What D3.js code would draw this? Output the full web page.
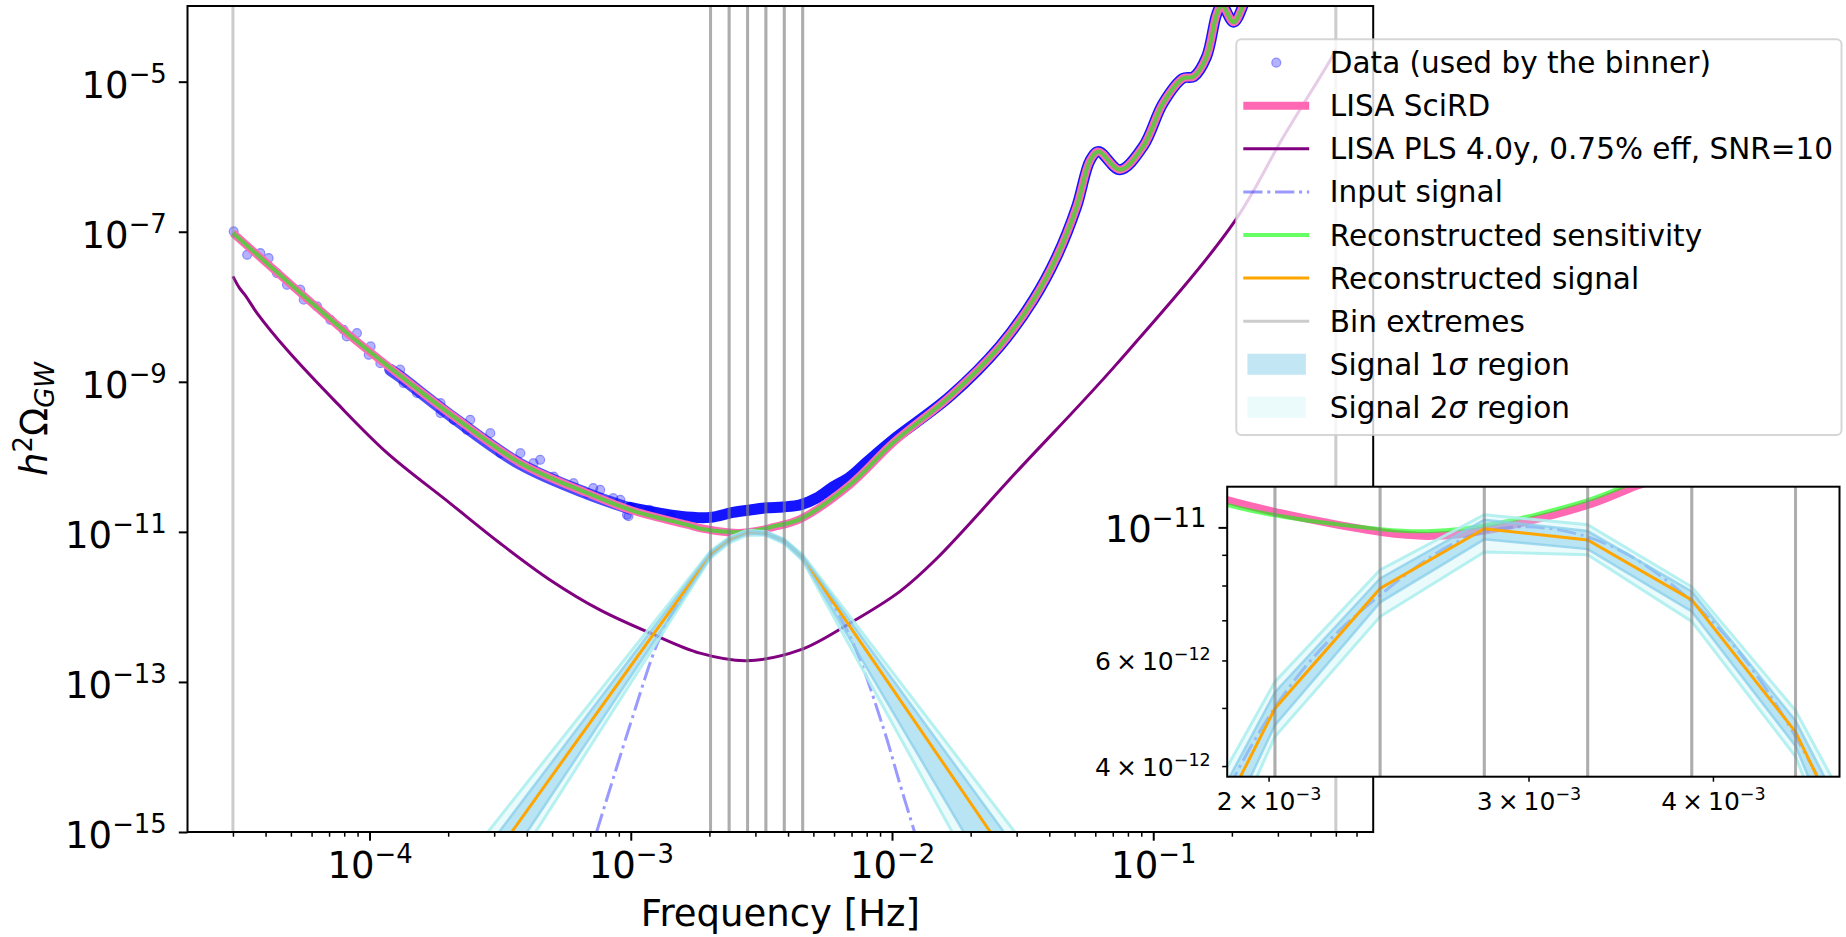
<!DOCTYPE html>
<html>
<head>
<meta charset="utf-8">
<title>LISA binned signal reconstruction</title>
<script src="https://cdn.jsdelivr.net/npm/d3@7"></script>
<style>
  body { margin: 0; background: #fff; }
  svg { display: block; }
  text { font-family: "DejaVu Sans", sans-serif; fill: #000; }
</style>
</head>
<body>
<script>
// Values, as [frequency (Hz), h^2 Omega_GW]

// LISA SciRD sensitivity curve
const sciRD = [
  [3.0e-5, 9.62e-8], [8.19e-5, 4.46e-9], [1.31e-4, 1.21e-9], [2.10e-4, 3.44e-10],
  [3.78e-4, 8.24e-11], [6.79e-4, 3.31e-11], [1.02e-3, 1.91e-11], [1.64e-3, 1.245e-11],
  [1.875e-3, 1.11e-11], [2.385e-3, 9.82e-12], [2.58e-3, 9.68e-12], [2.82e-3, 9.91e-12],
  [3.29e-3, 1.09e-11], [3.51e-3, 1.16e-11], [4.45e-3, 1.48e-11], [6.90e-3, 4.24e-11],
  [1.01e-2, 1.54e-10], [1.67e-2, 6.43e-10], [2.59e-2, 2.99e-9], [3.48e-2, 1.24e-8],
  [4.27e-2, 4.62e-8], [5.09e-2, 2.15e-7], [5.73e-2, 8.93e-7], [6.17e-2, 1.17e-6],
  [7.46e-2, 6.71e-7], [9.16e-2, 1.38e-6], [0.109, 5.15e-6], [0.130, 1.11e-5],
  [0.143, 1.17e-5], [0.160, 2.15e-5], [0.175, 8.00e-5], [0.183, 1.05e-4],
  [0.203, 6.21e-5], [0.221, 1.05e-4], [0.245, 3.16e-4]
];

// Reconstructed sensitivity (differs from SciRD only around the minimum)
const recSensitivity = [
  [3.0e-5, 9.62e-8], [8.19e-5, 4.46e-9], [1.31e-4, 1.21e-9], [2.10e-4, 3.44e-10],
  [3.78e-4, 8.24e-11], [6.79e-4, 3.31e-11], [1.02e-3, 1.91e-11], [1.64e-3, 1.245e-11],
  [1.875e-3, 1.09e-11], [2.385e-3, 9.93e-12], [2.58e-3, 9.86e-12], [2.82e-3, 1.01e-11],
  [3.29e-3, 1.11e-11], [3.51e-3, 1.18e-11], [4.45e-3, 1.48e-11], [6.90e-3, 4.24e-11],
  [1.01e-2, 1.54e-10], [1.67e-2, 6.43e-10], [2.59e-2, 2.99e-9], [3.48e-2, 1.24e-8],
  [4.27e-2, 4.62e-8], [5.09e-2, 2.15e-7], [5.73e-2, 8.93e-7], [6.17e-2, 1.17e-6],
  [7.46e-2, 6.71e-7], [9.16e-2, 1.38e-6], [0.109, 5.15e-6], [0.130, 1.11e-5],
  [0.143, 1.17e-5], [0.160, 2.15e-5], [0.175, 8.00e-5], [0.183, 1.05e-4],
  [0.203, 6.21e-5], [0.221, 1.05e-4], [0.245, 3.16e-4]
];

// LISA power-law sensitivity, 4 yr, SNR = 10
const plsCurve = [
  [3.00e-5, 2.54e-8], [3.18e-5, 1.77e-8], [3.37e-5, 1.37e-8], [3.71e-5, 8.24e-9],
  [4.83e-5, 2.67e-9], [7.50e-5, 5.20e-10], [1.17e-4, 1.12e-10], [2.03e-4, 2.42e-11],
  [3.16e-4, 7.06e-12], [4.91e-4, 2.29e-12], [7.62e-4, 9.12e-13], [1.19e-3, 4.46e-13],
  [1.84e-3, 2.42e-13], [2.78e-3, 1.92e-13], [4.45e-3, 2.67e-13], [6.90e-3, 6.07e-13],
  [1.07e-2, 1.60e-12], [1.48e-2, 4.38e-12], [3.00e-2, 6.31e-11], [7.24e-2, 1.72e-9],
  [0.203, 1.31e-7], [0.313, 1.77e-6], [0.475, 1.92e-5], [0.500, 2.67e-5]
];

// Injected signal
const inputSignal = [
  [7.40e-4, 1.0e-15], [1.02e-3, 3.55e-14], [1.26e-3, 3.16e-13], [1.46e-3, 8.91e-13],
  [2.02e-3, 5.01e-12], [2.38e-3, 7.71e-12], [2.80e-3, 9.84e-12], [3.29e-3, 9.64e-12],
  [3.87e-3, 7.52e-12], [4.55e-3, 4.48e-12], [6.92e-3, 3.98e-13], [9.24e-3, 2.51e-14],
  [1.07e-2, 4.47e-15], [1.22e-2, 1.0e-15]
];

// Reconstructed signal (piecewise power law between bin extremes)
const recSignal = [
  [3.50e-4, 1.0e-15], [2.02e-3, 4.99e-12], [2.38e-3, 7.91e-12], [2.80e-3, 9.95e-12],
  [3.29e-3, 9.53e-12], [3.87e-3, 7.57e-12], [4.55e-3, 4.56e-12], [2.38e-2, 1.0e-15]
];

// Uncertainty bands on the reconstructed signal
const sigma2Upper = [[2.84e-4, 1e-15], [2.02e-3, 5.53e-12], [2.38e-3, 8.49e-12], [2.80e-3, 1.05e-11],
  [3.29e-3, 1.01e-11], [3.87e-3, 7.96e-12], [4.55e-3, 4.95e-12], [2.95e-2, 1e-15]];
const sigma2Lower = [[4.32e-4, 1e-15], [2.02e-3, 4.48e-12], [2.38e-3, 7.10e-12], [2.80e-3, 9.10e-12],
  [3.29e-3, 9.00e-12], [3.87e-3, 6.97e-12], [4.55e-3, 4.15e-12], [1.70e-2, 1e-15]];
const sigma1Upper = [[3.13e-4, 1e-15], [2.02e-3, 5.31e-12], [2.38e-3, 8.22e-12], [2.80e-3, 1.03e-11],
  [3.29e-3, 9.86e-12], [3.87e-3, 7.82e-12], [4.55e-3, 4.76e-12], [2.68e-2, 1e-15]];
const sigma1Lower = [[4.01e-4, 1e-15], [2.02e-3, 4.68e-12], [2.38e-3, 7.50e-12], [2.80e-3, 9.55e-12],
  [3.29e-3, 9.20e-12], [3.87e-3, 7.24e-12], [4.55e-3, 4.32e-12], [1.88e-2, 1e-15]];

// Bins used by the binner: [low edge, high edge]
const bins = [[3.0e-5, 2.02e-3], [2.02e-3, 2.38e-3], [2.38e-3, 2.80e-3], [2.80e-3, 3.29e-3],
  [3.29e-3, 3.87e-3], [3.87e-3, 4.55e-3], [4.55e-3, 0.5]];

// Data points that are visible on their own (low frequencies)
const dataDots = [
  [3.02e-5, 1.01e-7], [3.40e-5, 4.93e-8], [3.82e-5, 5.20e-8], [4.11e-5, 4.46e-8],
  [4.42e-5, 2.81e-8], [4.83e-5, 1.96e-8], [5.43e-5, 1.69e-8], [5.60e-5, 1.24e-8],
  [6.30e-5, 1.01e-8], [7.08e-5, 6.71e-9], [7.96e-5, 4.93e-9], [8.18e-5, 4.02e-9],
  [8.95e-5, 4.46e-9], [1.01e-4, 2.96e-9], [9.93e-5, 2.29e-9], [1.10e-4, 1.77e-9],
  [1.31e-4, 1.45e-9], [1.35e-4, 9.62e-10], [1.52e-4, 7.06e-10], [1.87e-4, 5.20e-10],
  [1.87e-4, 3.83e-10], [2.10e-4, 3.11e-10], [2.43e-4, 3.11e-10], [2.36e-4, 2.29e-10],
  [2.90e-4, 2.07e-10], [3.17e-4, 1.12e-10], [3.78e-4, 1.12e-10], [4.50e-4, 9.12e-11],
  [5.07e-4, 5.46e-11], [6.04e-4, 4.46e-11], [6.80e-4, 3.28e-11], [7.64e-4, 3.63e-11],
  [9.12e-4, 2.67e-11], [9.67e-4, 1.69e-11], [1.42e-3, 1.60e-11], [4.24e-4, 8.24e-11],
  [8.57e-4, 2.81e-11], [7.18e-4, 3.83e-11], [1.18e-3, 1.96e-11], [9.80e-4, 1.62e-11]
];

// Loose cloud of points hugging the sensitivity (1e-4 .. 1e-3)
const dataCloud = [
  [1.20e-4, 1.45e-9], [1.31e-4, 1.17e-9], [2.10e-4, 3.30e-10], [3.78e-4, 8.00e-11],
  [6.79e-4, 3.25e-11], [9.93e-4, 2.05e-11]
];

// Centre of the dense data cloud (points overlap into a solid trail)
const dataTrail = [
  [9.93e-4, 2.12e-11], [1.54e-3, 1.62e-11], [2.01e-3, 1.56e-11], [2.46e-3, 1.82e-11],
  [2.86e-3, 1.96e-11], [3.32e-3, 2.09e-11], [3.82e-3, 2.15e-11], [4.45e-3, 2.29e-11],
  [5.16e-3, 2.84e-11], [5.94e-3, 3.98e-11], [6.90e-3, 5.41e-11], [8.02e-3, 8.57e-11],
  [1.01e-2, 1.69e-10], [1.67e-2, 6.43e-10], [2.59e-2, 2.99e-9], [3.48e-2, 1.24e-8],
  [4.27e-2, 4.62e-8], [5.09e-2, 2.15e-7], [5.73e-2, 8.93e-7], [6.17e-2, 1.17e-6],
  [7.46e-2, 6.71e-7], [9.16e-2, 1.38e-6], [0.109, 5.15e-6], [0.130, 1.11e-5],
  [0.143, 1.17e-5], [0.160, 2.15e-5], [0.175, 8.00e-5], [0.183, 1.05e-4],
  [0.203, 6.21e-5], [0.221, 1.05e-4], [0.245, 3.16e-4]
];

// Ticks
const mainXTicks = [1e-4, 1e-3, 1e-2, 1e-1];
const mainYTicks = [1e-15, 1e-13, 1e-11, 1e-9, 1e-7, 1e-5];
const insetXTicks = [2e-3, 3e-3, 4e-3];
const insetXLabels = ["2", "3", "4"];
const insetYMajor = [1e-11];
const insetYMinor = [4e-12, 5e-12, 6e-12, 7e-12, 8e-12, 9e-12];
const insetYLabels = ["4", "", "6", "", "", ""];

const legendLabels = [
  "Data (used by the binner)", "LISA SciRD", "LISA PLS 4.0y, 0.75% eff, SNR=10",
  "Input signal", "Reconstructed sensitivity", "Reconstructed signal",
  "Bin extremes", "Signal 1σ region", "Signal 2σ region"
];

// ---------------------------------------------------------------
const width = 1846, height = 937;
const main = { left: 187.5, right: 1373.2, top: 6, bottom: 832 };
const inset = { left: 1227.2, right: 1839.5, top: 486.7, bottom: 776.7 };
const tickFont = 37, legendFont = 29.5, smallFont = 25;

const svg = d3.select("body").append("svg")
  .attr("width", width)
  .attr("height", height)
  .attr("viewBox", [0, 0, width, height]);

svg.append("rect").attr("width", width).attr("height", height).attr("fill", "white");

const defs = svg.append("defs");
function addClip(id, box) {
  defs.append("clipPath").attr("id", id).append("rect")
    .attr("x", box.left).attr("y", box.top)
    .attr("width", box.right - box.left).attr("height", box.bottom - box.top);
}
addClip("clip-main", main);
addClip("clip-inset", inset);

// Scales
const x = d3.scaleLog().domain([2.01e-5, 0.695]).range([main.left, main.right]);
const y = d3.scaleLog().domain([1e-15, 1.02e-4]).range([main.bottom, main.top]);
const xIn = d3.scaleLog().domain([1.875e-3, 4.873e-3]).range([inset.left, inset.right]);
const yIn = d3.scaleLog().domain([3.84e-12, 1.169e-11]).range([inset.bottom, inset.top]);

// "10^-n" style labels, optionally with a mantissa
function powerLabel(text, value, size, mantissa) {
  const exp = Math.round(Math.log10(value / (mantissa ? +mantissa : 1)));
  text.text(null).attr("font-size", size);
  if (mantissa) text.append("tspan").text(mantissa + "\u2009\u00d7\u2009");
  text.append("tspan").text("10");
  text.append("tspan")
    .attr("font-size", size * 0.7)
    .attr("dy", -size * 0.405)
    .text((exp < 0 ? "\u2212" : "") + Math.abs(exp));
}

// Every series, drawn with a given pair of scales
function drawSeries(g, sx, sy, box) {
  const smooth = d3.line().x(d => sx(d[0])).y(d => sy(d[1])).curve(d3.curveCatmullRom.alpha(0.5));
  const straight = d3.line().x(d => sx(d[0])).y(d => sy(d[1]));
  const band = (upper, lower) => straight([...upper, ...lower.slice().reverse()]) + "Z";

  // data
  g.append("path")
    .datum(dataCloud)
    .attr("d", smooth)
    .attr("fill", "none")
    .attr("stroke", "#0000ff")
    .attr("stroke-opacity", 0.7)
    .attr("stroke-width", 12)
    .attr("stroke-linecap", "round");
  g.append("path")
    .datum(dataTrail)
    .attr("d", smooth)
    .attr("fill", "none")
    .attr("stroke", "#0000ff")
    .attr("stroke-opacity", 0.92)
    .attr("stroke-width", 11)
    .attr("stroke-linecap", "round")
    .attr("stroke-linejoin", "round");
  g.append("g")
    .selectAll("circle")
    .data(dataDots)
    .join("circle")
    .attr("cx", d => sx(d[0]))
    .attr("cy", d => sy(d[1]))
    .attr("r", 4.5)
    .attr("fill", "#0000ff")
    .attr("fill-opacity", 0.3)
    .attr("stroke", "#0000ff")
    .attr("stroke-opacity", 0.35)
    .attr("stroke-width", 1.2);

  // LISA SciRD
  g.append("path").datum(sciRD).attr("d", smooth)
    .attr("fill", "none").attr("stroke", "#ff69b4").attr("stroke-width", 8)
    .attr("stroke-linejoin", "round");

  // PLS
  g.append("path").datum(plsCurve).attr("d", smooth)
    .attr("fill", "none").attr("stroke", "#800080").attr("stroke-width", 3);

  // input signal
  g.append("path").datum(inputSignal).attr("d", smooth)
    .attr("fill", "none").attr("stroke", "#0000ff").attr("stroke-opacity", 0.4)
    .attr("stroke-width", 3).attr("stroke-dasharray", "19.2,4.8,3,4.8");

  // reconstructed sensitivity
  g.append("path").datum(recSensitivity).attr("d", smooth)
    .attr("fill", "none").attr("stroke", "#00ff00").attr("stroke-opacity", 0.6)
    .attr("stroke-width", 4);

  // uncertainty regions
  g.append("path").attr("d", band(sigma2Upper, sigma2Lower))
    .attr("fill", "#afeeee").attr("fill-opacity", 0.25);
  g.append("path").attr("d", band(sigma1Upper, sigma1Lower))
    .attr("fill", "#87ceeb").attr("fill-opacity", 0.5);

  // reconstructed signal
  g.append("path").datum(recSignal).attr("d", straight)
    .attr("fill", "none").attr("stroke", "#ffa500").attr("stroke-width", 3);

  // band edges
  [sigma2Upper, sigma2Lower].forEach(edge => {
    g.append("path").datum(edge).attr("d", straight)
      .attr("fill", "none").attr("stroke", "#afeeee").attr("stroke-opacity", 0.9)
      .attr("stroke-width", 3);
  });
  [sigma1Upper, sigma1Lower].forEach(edge => {
    g.append("path").datum(edge).attr("d", straight)
      .attr("fill", "none").attr("stroke", "#87ceeb").attr("stroke-opacity", 0.75)
      .attr("stroke-width", 2.5);
  });

  // bin extremes (each bin draws both of its edges)
  g.append("g")
    .selectAll("line")
    .data(bins.flat())
    .join("line")
    .attr("x1", d => sx(d)).attr("x2", d => sx(d))
    .attr("y1", box.top).attr("y2", box.bottom)
    .attr("stroke", "#808080").attr("stroke-opacity", 0.4).attr("stroke-width", 3);
}

// ---------------- main axes ----------------
drawSeries(svg.append("g").attr("clip-path", "url(#clip-main)"), x, y, main);

const gx = svg.append("g")
  .attr("transform", `translate(0,${main.bottom})`)
  .call(d3.axisBottom(x).tickValues(mainXTicks).tickSize(8.7).tickFormat(() => ""));
gx.select(".domain").remove();
gx.selectAll(".tick line").attr("stroke-width", 2);
gx.selectAll(".tick text").attr("y", 46).attr("dy", null)
  .each(function (d) { powerLabel(d3.select(this), d, tickFont); });

const minorX = x.ticks().filter(d => Math.abs(Math.log10(d) - Math.round(Math.log10(d))) > 1e-6);
const gxMinor = svg.append("g")
  .attr("transform", `translate(0,${main.bottom})`)
  .call(d3.axisBottom(x).tickValues(minorX).tickSize(4.7).tickFormat(() => ""));
gxMinor.select(".domain").remove();
gxMinor.selectAll(".tick line").attr("stroke-width", 1.5);

const gy = svg.append("g")
  .attr("transform", `translate(${main.left},0)`)
  .call(d3.axisLeft(y).tickValues(mainYTicks).tickSize(8.7).tickFormat(() => ""));
gy.select(".domain").remove();
gy.selectAll(".tick line").attr("stroke-width", 2);
gy.selectAll(".tick text").attr("x", -20.7).attr("y", 15.4).attr("dy", null)
  .each(function (d) { powerLabel(d3.select(this), d, tickFont); });

svg.append("rect")
  .attr("x", main.left).attr("y", main.top)
  .attr("width", main.right - main.left).attr("height", main.bottom - main.top)
  .attr("fill", "none").attr("stroke", "black").attr("stroke-width", 2);

svg.append("text")
  .attr("x", (main.left + main.right) / 2).attr("y", 926)
  .attr("text-anchor", "middle").attr("font-size", tickFont)
  .text("Frequency [Hz]");

const yLabel = svg.append("text")
  .attr("transform", `translate(46.7,${(main.top + main.bottom) / 2}) rotate(-90)`)
  .attr("text-anchor", "middle").attr("font-size", tickFont);
yLabel.append("tspan").attr("font-style", "italic").text("h");
yLabel.append("tspan").attr("font-size", tickFont * 0.7).attr("dy", -15).text("2");
yLabel.append("tspan").attr("dy", 15).text("Ω");
yLabel.append("tspan").attr("font-size", tickFont * 0.7).attr("font-style", "italic").attr("dy", 7).text("GW");

// ---------------- inset ----------------
svg.append("rect")
  .attr("x", inset.left).attr("y", inset.top)
  .attr("width", inset.right - inset.left).attr("height", inset.bottom - inset.top)
  .attr("fill", "white");
drawSeries(svg.append("g").attr("clip-path", "url(#clip-inset)"), xIn, yIn, inset);

const ix = svg.append("g")
  .attr("transform", `translate(0,${inset.bottom})`)
  .call(d3.axisBottom(xIn).tickValues(insetXTicks).tickSize(5).tickFormat(() => ""));
ix.select(".domain").remove();
ix.selectAll(".tick line").attr("stroke-width", 1.5);
ix.selectAll(".tick text").attr("y", 33.3).attr("dy", null)
  .each(function (d, i) { powerLabel(d3.select(this), d, smallFont, insetXLabels[i]); });

const iyMajor = svg.append("g")
  .attr("transform", `translate(${inset.left},0)`)
  .call(d3.axisLeft(yIn).tickValues(insetYMajor).tickSize(8.7).tickFormat(() => ""));
iyMajor.select(".domain").remove();
iyMajor.selectAll(".tick line").attr("stroke-width", 2);
iyMajor.selectAll(".tick text").attr("x", -20.7).attr("y", 13.8).attr("dy", null)
  .each(function (d) { powerLabel(d3.select(this), d, tickFont); });

const iyMinor = svg.append("g")
  .attr("transform", `translate(${inset.left},0)`)
  .call(d3.axisLeft(yIn).tickValues(insetYMinor).tickSize(5).tickFormat(() => ""));
iyMinor.select(".domain").remove();
iyMinor.selectAll(".tick line").attr("stroke-width", 1.5);
iyMinor.selectAll(".tick text").attr("x", -16.5).attr("y", 9.3).attr("dy", null)
  .each(function (d, i) {
    if (insetYLabels[i]) powerLabel(d3.select(this), d, smallFont, insetYLabels[i]);
  });

svg.append("rect")
  .attr("x", inset.left).attr("y", inset.top)
  .attr("width", inset.right - inset.left).attr("height", inset.bottom - inset.top)
  .attr("fill", "none").attr("stroke", "black").attr("stroke-width", 2);

// ---------------- legend ----------------
const legend = svg.append("g");
legend.append("rect")
  .attr("x", 1236.3).attr("y", 39.3).attr("width", 605.2).attr("height", 395.7)
  .attr("rx", 5).attr("ry", 5)
  .attr("fill", "white").attr("fill-opacity", 0.8)
  .attr("stroke", "#cccccc").attr("stroke-opacity", 0.8).attr("stroke-width", 2);

const hx1 = 1243.3, hx2 = 1309.2, rowY = i => 62.7 + i * 43.08;
const lineHandle = (i, attrs) => {
  const l = legend.append("line").attr("x1", hx1).attr("x2", hx2).attr("y1", rowY(i)).attr("y2", rowY(i));
  Object.entries(attrs).forEach(([k, v]) => l.attr(k, v));
};
legend.append("circle").attr("cx", (hx1 + hx2) / 2).attr("cy", rowY(0)).attr("r", 4.5)
  .attr("fill", "#0000ff").attr("fill-opacity", 0.3)
  .attr("stroke", "#0000ff").attr("stroke-opacity", 0.35).attr("stroke-width", 1.2);
lineHandle(1, { stroke: "#ff69b4", "stroke-width": 8 });
lineHandle(2, { stroke: "#800080", "stroke-width": 3 });
lineHandle(3, { stroke: "#0000ff", "stroke-opacity": 0.4, "stroke-width": 3, "stroke-dasharray": "19.2,4.8,3,4.8" });
lineHandle(4, { stroke: "#00ff00", "stroke-opacity": 0.6, "stroke-width": 4 });
lineHandle(5, { stroke: "#ffa500", "stroke-width": 3 });
lineHandle(6, { stroke: "#808080", "stroke-opacity": 0.4, "stroke-width": 3 });
legend.append("rect").attr("x", 1247.4).attr("y", rowY(7) - 10.5).attr("width", 58.5).attr("height", 21)
  .attr("fill", "#87ceeb").attr("fill-opacity", 0.5);
legend.append("rect").attr("x", 1247.4).attr("y", rowY(8) - 10.5).attr("width", 58.5).attr("height", 21)
  .attr("fill", "#afeeee").attr("fill-opacity", 0.25);

legendLabels.forEach((label, i) => {
  const t = legend.append("text")
    .attr("x", 1329.8).attr("y", rowY(i) + 10.5)
    .attr("font-size", legendFont);
  label.split(/(σ)/).forEach(part => {
    if (!part) return;
    const s = t.append("tspan").text(part);
    if (part === "σ") s.attr("font-style", "italic");
  });
});
</script>
</body>
</html>
